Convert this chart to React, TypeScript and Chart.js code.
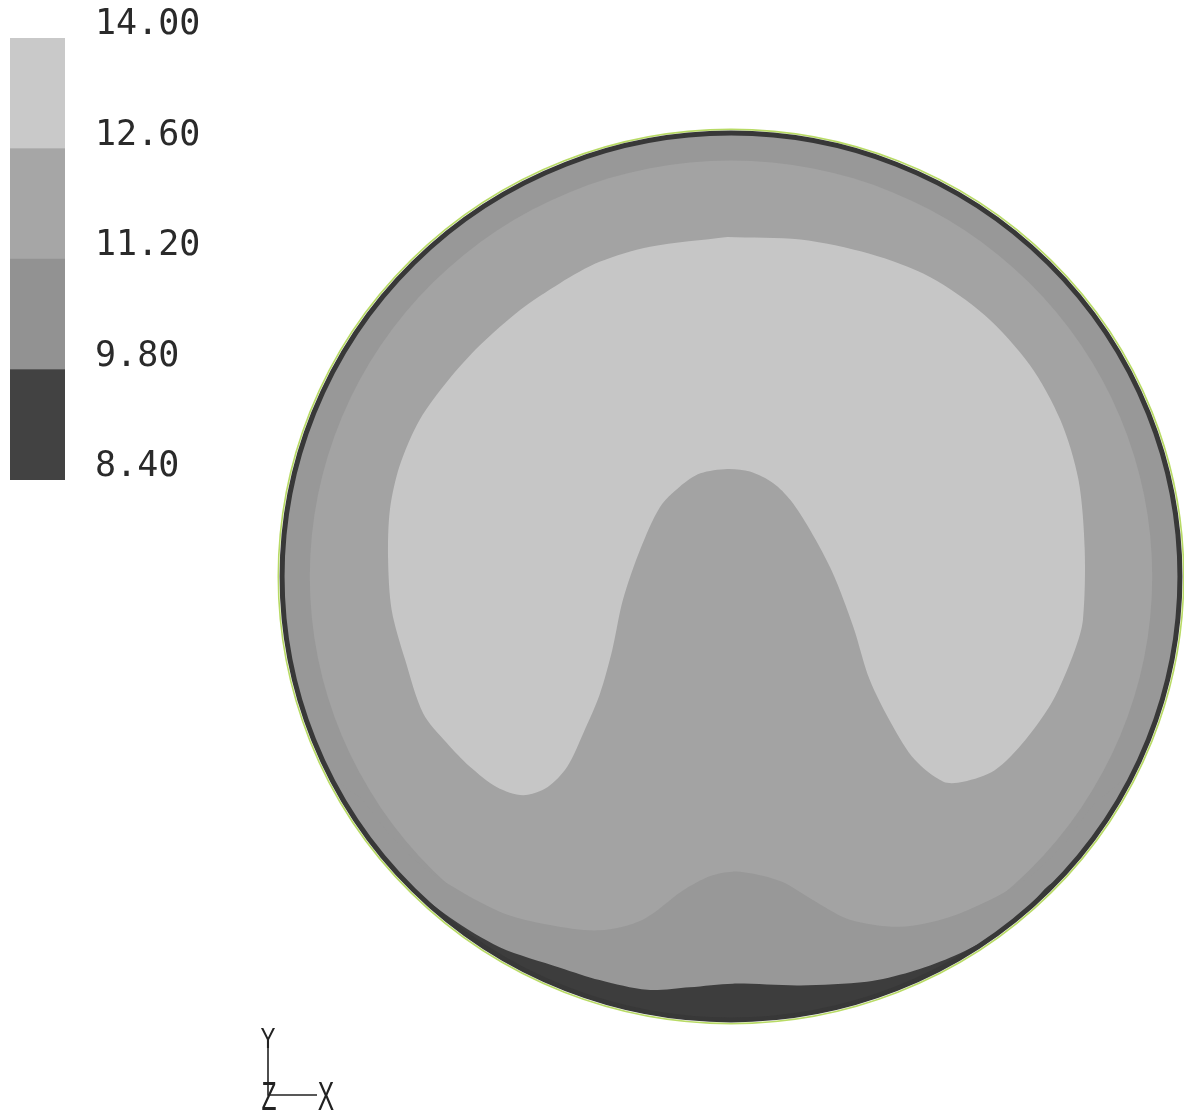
import React, { useEffect, useRef } from 'react';
import { Chart, registerables } from 'chart.js';

Chart.register(...registerables);

// ---- Colour-bar levels (legend) ----
const LEVELS = [8.4, 9.8, 11.2, 12.6, 14.0];
const LEVEL_COLORS = ['#424242', '#929292', '#a6a6a6', '#c9c9c9'];

// ---- Domain (circular section), data units ----
const DOMAIN_RADIUS = 50;
const RING_INNER_RADIUS = 46.8;
const X_RANGE = [-81.22, 50.33];
const Y_RANGE = [-60.69, 64.85];

// Contour band fills
const COLOR_HIGH = '#c6c6c6';
const COLOR_MID = '#a3a3a3';
const COLOR_RING = '#989898';
const COLOR_LOW = '#3d3d3d';

// 12.60 - 14.00 zone (horseshoe)
const HIGH_ZONE: [number, number][] = [
  [-0.4, 38.2], [7.7, 37.9], [15.4, 36.3], [22.1, 33.7], [28.2, 29.4], [33.2, 23.8],
  [36.6, 17.6], [38.6, 10.9], [39.3, 3.0], [39.1, -4.9], [38.2, -8.3], [35.8, -13.9],
  [32.7, -18.4], [29.3, -21.8], [25.8, -23.1], [23.6, -23.1], [20.4, -20.6], [17.9, -16.7],
  [15.4, -11.6], [13.6, -5.7], [11.3, 0.4], [8.8, 5.2], [6.6, 8.6], [4.7, 10.5],
  [2.1, 11.8], [-0.4, 12.1], [-3.4, 11.6], [-5.7, 10.1], [-7.9, 7.8], [-10.1, 3.0],
  [-12.0, -2.6], [-13.2, -8.3], [-14.6, -13.3], [-16.4, -17.6], [-18.2, -21.4], [-20.4, -23.7],
  [-23.1, -24.6], [-26.0, -23.7], [-29.0, -21.4], [-31.6, -18.7], [-34.2, -15.4], [-36.2, -9.4],
  [-37.7, -3.8], [-38.1, 1.9], [-37.9, 7.5], [-36.8, 12.5], [-34.6, 17.6], [-31.4, 22.1],
  [-27.9, 26.0], [-23.4, 30.0], [-19.0, 33.0], [-14.6, 35.4], [-9.0, 37.1], [-0.4, 38.2],
];

// 9.80 - 11.20 zone near the bottom (joins the outer ring)
const LOWER_BUMP: [number, number][] = [
  [-41.0, -25.0], [-37.5, -29.5], [-33.5, -33.2], [-25.7, -37.7], [-20.1, -39.2], [-14.6, -39.8],
  [-9.8, -38.6], [-5.3, -35.3], [-2.3, -33.7], [0.2, -33.2], [3.2, -33.6], [5.8, -34.4],
  [9.6, -36.7], [13.2, -38.6], [18.8, -39.4], [24.3, -38.3], [29.9, -35.8], [33.5, -33.5],
  [37.5, -29.5], [41.0, -25.0], [50, -20], [60, -50], [0, -75], [-60, -50], [-50, -20], [-41.0, -25.0],
];

// 8.40 - 9.80 zone at the bottom edge
const LOW_ZONE: [number, number][] = [
  [-36.0, -34.6], [-31.2, -38.4], [-25.7, -41.7], [-19.0, -44.0], [-14.6, -45.4], [-9.3, -46.5],
  [-4.6, -46.2], [0.2, -45.8], [7.7, -46.0], [15.1, -45.6], [19.9, -44.5], [24.3, -42.9],
  [28.8, -40.6], [32.5, -37.9], [36.5, -34.3], [60, -40], [0, -75], [-60, -40], [-36.0, -34.6],
];

const toPts = (arr: [number, number][]) => arr.map(([x, y]) => ({ x, y }));

function ellipsePath(chart: any, r: number) {
  const { ctx, scales } = chart;
  const xs = scales.x;
  const ys = scales.y;
  const cx = xs.getPixelForValue(0);
  const cy = ys.getPixelForValue(0);
  const rx = Math.abs(xs.getPixelForValue(r) - cx);
  const ry = Math.abs(ys.getPixelForValue(r) - cy);
  ctx.beginPath();
  ctx.ellipse(cx, cy, rx, ry, 0, 0, Math.PI * 2);
}

const domainPlugin = {
  id: 'domainPlugin',
  beforeDatasetsDraw(chart: any) {
    const ctx = chart.ctx;
    ctx.save();
    ellipsePath(chart, DOMAIN_RADIUS);
    ctx.fillStyle = COLOR_RING;
    ctx.fill();
    ellipsePath(chart, RING_INNER_RADIUS);
    ctx.fillStyle = COLOR_MID;
    ctx.fill();
    ellipsePath(chart, DOMAIN_RADIUS);
    ctx.clip();
  },
  afterDatasetsDraw(chart: any) {
    const ctx = chart.ctx;
    ctx.restore();
    ctx.save();
    ellipsePath(chart, DOMAIN_RADIUS + 0.3);
    ctx.strokeStyle = 'rgba(160,205,50,0.75)';
    ctx.lineWidth = 1.6;
    ctx.stroke();
    ellipsePath(chart, DOMAIN_RADIUS - 0.12);
    ctx.strokeStyle = '#383838';
    ctx.lineWidth = 5;
    ctx.stroke();
    ctx.restore();
  },
  afterDraw(chart: any) {
    // axis triad in the lower-left corner
    const ctx = chart.ctx;
    ctx.save();
    ctx.strokeStyle = '#222';
    ctx.lineWidth = 1.6;
    ctx.beginPath();
    ctx.moveTo(268, 1046);
    ctx.lineTo(268, 1095);
    ctx.lineTo(317, 1095);
    ctx.stroke();
    ctx.fillStyle = '#222';
    ctx.textAlign = 'center';
    ctx.textBaseline = 'alphabetic';
    const letter = (t: string, x: number, y: number, size: number, sx: number) => {
      ctx.save();
      ctx.translate(x, y);
      ctx.scale(sx, 1);
      ctx.font = `${size}px "Liberation Sans"`;
      ctx.fillText(t, 0, 0);
      ctx.restore();
    };
    letter('Y', 268, 1048, 30, 0.75);
    letter('Z', 269, 1110, 41, 0.6);
    letter('X', 326, 1110, 41, 0.6);
    ctx.restore();
  },
};

export default function App() {
  const mainRef = useRef<HTMLCanvasElement>(null);
  const barRef = useRef<HTMLCanvasElement>(null);

  useEffect(() => {
    const common = {
      pointRadius: 0,
      borderWidth: 0,
      tension: 0.3,
      fill: 'shape',
    };
    const main = new Chart(mainRef.current!, {
      type: 'line',
      data: {
        datasets: [
          { ...common, label: '8.40-9.80', data: toPts(LOW_ZONE), backgroundColor: COLOR_LOW, borderColor: COLOR_LOW, order: 0 },
          { ...common, label: '12.60-14.00', data: toPts(HIGH_ZONE), backgroundColor: COLOR_HIGH, borderColor: COLOR_HIGH, order: 1 },
          { ...common, label: '9.80-11.20', data: toPts(LOWER_BUMP), backgroundColor: COLOR_RING, borderColor: COLOR_RING, order: 2 },
        ] as any,
      },
      options: {
        animation: false,
        responsive: false,
        maintainAspectRatio: false,
        layout: { padding: 0 },
        plugins: { legend: { display: false }, tooltip: { enabled: false } },
        scales: {
          x: { type: 'linear', min: X_RANGE[0], max: X_RANGE[1], display: false },
          y: { type: 'linear', min: Y_RANGE[0], max: Y_RANGE[1], display: false },
        },
      } as any,
      plugins: [domainPlugin],
    });

    const bar = new Chart(barRef.current!, {
      type: 'bar',
      data: {
        labels: ['scale'],
        datasets: LEVEL_COLORS.map((c, i) => ({
          data: [[LEVELS[i], LEVELS[i + 1]]],
          backgroundColor: c,
          borderWidth: 0,
          barPercentage: 1,
          categoryPercentage: 1,
          grouped: false,
        })) as any,
      },
      options: {
        animation: false,
        responsive: false,
        maintainAspectRatio: false,
        layout: { padding: { left: 10, top: 38, bottom: 21, right: 0 } },
        plugins: { legend: { display: false }, tooltip: { enabled: false } },
        scales: {
          x: { display: false },
          y: {
            position: 'right',
            min: LEVELS[0],
            max: LEVELS[LEVELS.length - 1],
            grid: { display: false, drawTicks: false },
            border: { display: false },
            afterBuildTicks: (s: any) => {
              s.ticks = LEVELS.map((v) => ({ value: v }));
            },
            afterFit: (s: any) => {
              s.width = 155;
              s.paddingTop = 0;
              s.paddingBottom = 0;
            },
            ticks: {
              padding: 30,
              labelOffset: -13,
              color: '#2a2a2a',
              font: { family: '"DejaVu Sans Mono"', size: 35 },
              callback: (v: any) => Number(v).toFixed(2),
            },
          },
        },
      } as any,
    });

    return () => {
      main.destroy();
      bar.destroy();
    };
  }, []);

  return (
    <div style={{ position: 'absolute', left: 0, top: 0, width: 1184, height: 1116, background: '#fff' }}>
      <canvas ref={mainRef} width={1184} height={1116} style={{ position: 'absolute', left: 0, top: 0 }} />
      <canvas ref={barRef} width={220} height={501} style={{ position: 'absolute', left: 0, top: 0 }} />
    </div>
  );
}
